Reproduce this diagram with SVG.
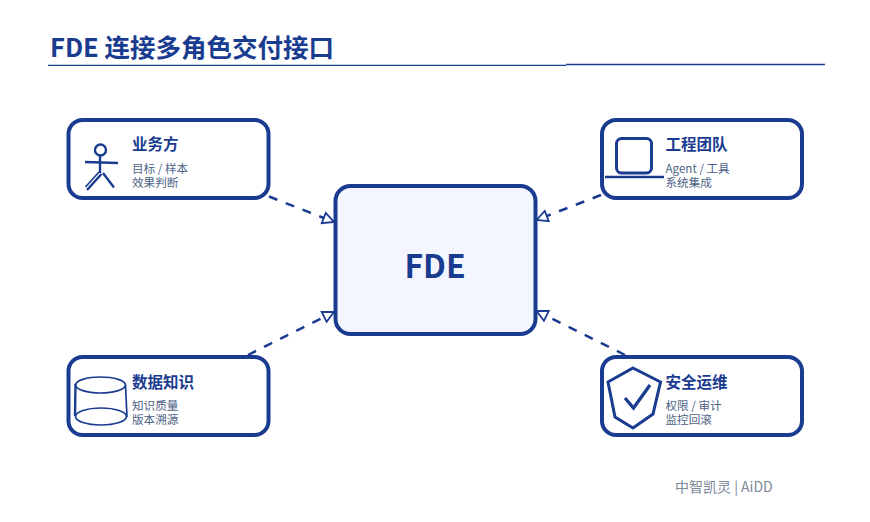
<svg xmlns="http://www.w3.org/2000/svg" width="870" height="522" viewBox="0 0 870 522">
<defs>
<style>
text{font-family:"Noto Sans CJK SC","Noto Sans",sans-serif}
.box{fill:#fff;stroke:#1a3c90;stroke-width:4}
.t{font-size:15.5px;font-weight:700;fill:#1a3c90}
.s{font-size:11.6px;fill:#4d5f85}
.i{fill:none;stroke:#1a3c90;stroke-width:2.4}
.th{fill:none;stroke:#1a3c90;stroke-width:1.7}
.c{fill:none;stroke:#1a3c90;stroke-width:2.5;stroke-dasharray:9 9}
</style>
<marker id="a" markerWidth="16" markerHeight="16" refX="13" refY="7" orient="auto" markerUnits="userSpaceOnUse"><path d="M2 1.500L13 7L2 12.500Z" fill="#fff" stroke="#1a3c90" stroke-width="1.800"/></marker>
</defs>
<rect width="870" height="522" fill="#fff"/>
<g id="title">
<text x="50" y="56.500" font-size="25.500" font-weight="700" fill="#1a3c90">FDE 连接多角色交付接口</text>
<path d="M48 65.300H566" stroke="#1a3c90" stroke-width="1.300"/>
<path d="M566 64.500H825" stroke="#1a3c90" stroke-width="1.300"/>
</g>
<g id="connectors">
<path class="c" d="M269 196.500L334 222" marker-end="url(#a)"/>
<path class="c" d="M601 195L536.500 220" marker-end="url(#a)"/>
<path class="c" d="M248 355L334 312" marker-end="url(#a)"/>
<path class="c" d="M625 355L536.500 311" marker-end="url(#a)"/>
</g>
<g id="fde">
<rect x="335.500" y="186" width="200" height="148" rx="15" fill="#f3f6fe" stroke="#1a3c90" stroke-width="4"/>
<text x="435" y="277.500" font-size="32" font-weight="700" fill="#1a3c90" text-anchor="middle">FDE</text>
</g>
<g id="n1">
<rect class="box" x="68.500" y="120" width="200" height="78" rx="14"/>
<circle class="i" cx="100.500" cy="150" r="5.500"/>
<path class="i" d="M100 155.500V173M85 162L118 163M103 173L114 187.500M101.500 174L87 190"/>
<path class="th" d="M99 172L85.500 187"/>
<text class="t" x="132" y="150">业务方</text>
<text class="s" x="132" y="173">目标 / 样本<tspan x="132" dy="14">效果判断</tspan></text>
</g>
<g id="n2">
<rect class="box" x="602" y="120" width="200" height="78" rx="14"/>
<rect x="616.500" y="138.500" width="35" height="34.500" rx="5" fill="none" stroke="#1a3c90" stroke-width="3"/>
<path class="i" d="M605 177H664"/>
<text class="t" x="665.500" y="150">工程团队</text>
<text class="s" x="665.500" y="173">Agent / 工具<tspan x="665.500" dy="14">系统集成</tspan></text>
</g>
<g id="n3">
<rect class="box" x="68.500" y="357" width="200" height="78" rx="14"/>
<ellipse class="th" cx="100.500" cy="385" rx="25" ry="8"/>
<ellipse class="th" cx="101" cy="416.500" rx="25.500" ry="8.500"/>
<path class="i" d="M75.500 384L75 416"/>
<path class="th" d="M125.500 385L127 417"/>
<text class="t" x="132" y="388">数据知识</text>
<text class="s" x="132" y="410">知识质量<tspan x="132" dy="14">版本溯源</tspan></text>
</g>
<g id="n4">
<rect class="box" x="602" y="357" width="200" height="78" rx="14"/>
<path class="i" style="stroke-width:3" d="M633 368L660.500 382L653 414L633 428L615 417L608 382Z"/>
<path class="i" style="stroke-width:3.300" d="M625 398L633.500 408L650 385"/>
<text class="t" x="665.500" y="388">安全运维</text>
<text class="s" x="665.500" y="410">权限 / 审计<tspan x="665.500" dy="14">监控回滚</tspan></text>
</g>
<text id="footer" x="675" y="492" font-size="14" fill="#7d8799">中智凯灵 | AiDD</text>
</svg>
